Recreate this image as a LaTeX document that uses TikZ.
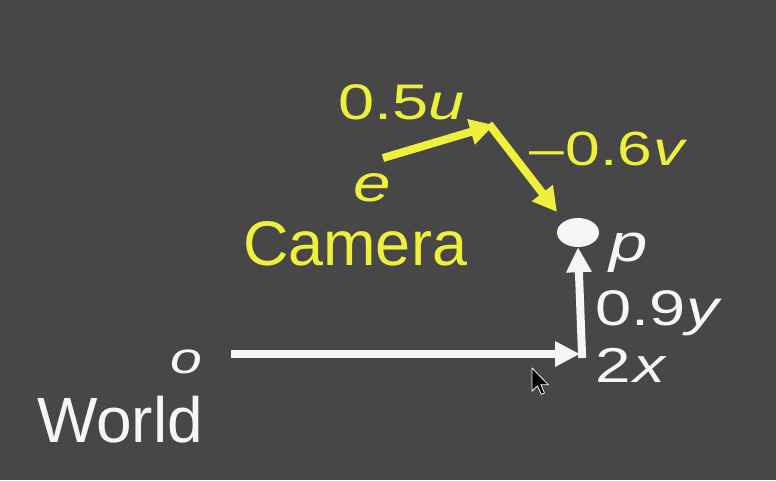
\documentclass[tikz,border=0pt]{standalone}
\usepackage{fontspec}
\setmainfont{Liberation Sans}
\newfontfamily\labfont[FakeStretch=1.3]{Liberation Sans}
\usetikzlibrary{arrows.meta,shapes.geometric}
\definecolor{bg}{RGB}{71,71,71}
\definecolor{yel}{RGB}{238,240,60}
\definecolor{wht}{RGB}{246,246,246}
\tikzset{
  lbl/.style={anchor=base west, inner sep=0pt, outer sep=0pt},
  ylbl/.style={lbl, text=yel},
  wlbl/.style={lbl, text=wht},
  yarrow/.style={draw=yel, line width=8pt, -{Triangle[length=24pt,width=25pt]}},
  warrow/.style={draw=wht, line width=8pt, -{Triangle[length=25pt,width=24pt]}},
}
\begin{document}
\begin{tikzpicture}[x=1pt,y=-1pt]
\fill[bg] (0,0) rectangle (776,480);
\useasboundingbox (0,0) rectangle (776,480);

% yellow labels
\node[ylbl, font=\labfont\fontsize{50}{50}\selectfont] (lu) at (338,119) {0.5\textit{u}};
\node[ylbl, font=\labfont\fontsize{48}{48}\selectfont] (lv) at (529,165) {–\kern2pt0.6\kern1pt\textit{v}};
\node[ylbl, font=\labfont\fontsize{52}{52}\selectfont] (le) at (353,201) {\textit{e}};
\node[ylbl, font=\fontsize{63}{63}\selectfont] (cam) at (243,265) {Camera};

% white labels
\node[wlbl, font=\labfont\fontsize{53}{53}\selectfont] (lp) at (609,261) {\textit{p}};
\node[wlbl, font=\labfont\fontsize{50}{50}\selectfont] (ly) at (595,325) {0.9\kern1pt\textit{y}};
\node[wlbl, font=\labfont\fontsize{49}{49}\selectfont] (lx) at (595,382) {2\kern3pt\textit{x}};
\node[wlbl, font=\labfont\fontsize{44}{44}\selectfont] (lo) at (170,373) {\textit{o}};
\node[wlbl, font=\fontsize{64}{64}\selectfont] (world) at (37,442) {World};

% point p
\node[ellipse, fill=wht, minimum width=42pt, minimum height=29pt, inner sep=0pt] (p) at (578,232.5) {};

% coordinates
\coordinate (e0) at (383,158);
\coordinate (c1) at (494,125);
\coordinate (c2) at (557,212);
\coordinate (o0) at (231,354);
\coordinate (corner) at (582,354);
\coordinate (hend) at (580,354);

% yellow arrows
\draw[yarrow] (e0) -- (c1);
\draw[yarrow] (489,124) -- (c2);

% white arrows
\draw[warrow] (o0) -- (hend);
\draw[warrow, line cap=rect] (corner) -- (p.south);

% mouse cursor
\begin{scope}[shift={(532,368)}, scale=1.45]
\filldraw[fill=black, draw=wht, line width=0.8pt, line join=round]
  (0,0) -- (0,16) -- (3.8,12.3) -- (6.4,18.2) -- (8.6,17.2) -- (6.1,11.5) -- (11.2,11.5) -- cycle;
\end{scope}
\end{tikzpicture}
\end{document}
